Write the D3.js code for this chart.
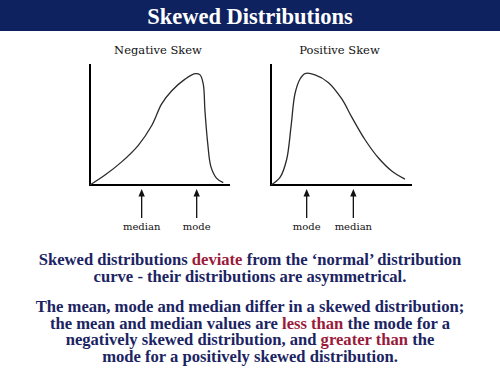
<!DOCTYPE html>
<html>
<head>
<meta charset="utf-8">
<script src="https://cdn.jsdelivr.net/npm/d3@7"></script>
<style>
    body { margin: 0; background: #fff; }
</style>
</head>
<body>
<div></div>
<script>
// curve points (x, y in 0..100 units)
const negX = [0, 10.7, 22.6, 34.5, 44.1, 51.2, 58.4, 67.9, 75, 78.6, 80.9, 82.1, 84.1, 86.4, 90.5, 95.2];
const negY = [0, 8.2, 19.1, 32.8, 49.2, 67.0, 77.9, 87.5, 92.0, 91.0, 83.4, 61.5, 34.2, 15.0, 5.5, 1.9];
const posX = [0, 6.4, 11.1, 14.2, 17.0, 20.6, 24.1, 31.2, 40.6, 50.1, 57.2, 66.7, 76.1, 85.6, 95.0];
const posY = [0, 6.3, 21.1, 48.2, 75.4, 87.6, 92.1, 91.1, 84.8, 71.3, 56.3, 37.4, 22.5, 11.6, 4.9];

const panelTitles = ["Negative Skew", "Positive Skew"];
const negMarkers = ["median", "mode"];
const negMarkerX = [36.9, 76.2];
const posMarkers = ["mode", "median"];
const posMarkerX = [25.3, 58.4];

const heading = "Skewed Distributions";
const para1 = [
    [["Skewed distributions ", 0], ["deviate", 1], [" from the \u2018normal\u2019 distribution", 0]],
    [["curve - their distributions are asymmetrical.", 0]]
];
const para2 = [
    [["The mean, mode and median differ in a skewed distribution;", 0]],
    [["the mean and median values are ", 0], ["less than", 1], [" the mode for a", 0]],
    [["negatively skewed distribution, and ", 0], ["greater than", 1], [" the", 0]],
    [["mode for a positively skewed distribution.", 0]]
];

const navy = "#0f2260";
const textNavy = "#1b2462";
const red = "#9a1a3c";

const svg = d3.select("div")
    .append("svg")
    .attr("width", 500)
    .attr("height", 375);

// header band
svg.append("rect")
    .attr("x", 0)
    .attr("y", 0)
    .attr("width", 500)
    .attr("height", 31)
    .attr("fill", navy);

svg.append("text")
    .attr("x", 250)
    .attr("y", 24)
    .attr("text-anchor", "middle")
    .attr("font-family", "Liberation Serif, serif")
    .attr("font-weight", "bold")
    .attr("font-size", 22.5)
    .attr("fill", "#fff")
    .text(heading);

const panels = [
    {x0: 90, x1: 230, y0: 185, y1: 64, xs: negX, ys: negY, names: negMarkers, mx: negMarkerX, title: panelTitles[0]},
    {x0: 271, x1: 412, y0: 185, y1: 64, xs: posX, ys: posY, names: posMarkers, mx: posMarkerX, title: panelTitles[1]}
];

panels.forEach(p => {
    const x = d3.scaleLinear().domain([0, 100]).range([p.x0, p.x1]);
    const y = d3.scaleLinear().domain([0, 100]).range([p.y0, p.y1]);
    const g = svg.append("g");

    g.append("text")
        .attr("x", (p.x0 + p.x1) / 2 - 2)
        .attr("y", 54)
        .attr("text-anchor", "middle")
        .attr("font-family", "DejaVu Serif, serif")
        .attr("font-size", 11.5)
        .attr("fill", "#111")
        .text(p.title);

    // axes
    g.append("line")
        .attr("x1", x(0)).attr("y1", y(0))
        .attr("x2", x(0)).attr("y2", y(100))
        .attr("stroke", "#000").attr("stroke-width", 2);
    g.append("line")
        .attr("x1", x(0) - 1).attr("y1", y(0))
        .attr("x2", x(100)).attr("y2", y(0))
        .attr("stroke", "#000").attr("stroke-width", 2);

    const pts = p.xs.map((v, i) => [v, p.ys[i]]);
    const line = d3.line()
        .x(d => x(d[0]))
        .y(d => y(d[1]))
        .curve(d3.curveCatmullRom.alpha(0.5));
    g.append("path")
        .attr("d", line(pts))
        .attr("fill", "none")
        .attr("stroke", "#2a2a2a")
        .attr("stroke-width", 1.3);

    // arrows + labels
    p.mx.forEach((v, i) => {
        const ax = x(v);
        g.append("line")
            .attr("x1", ax).attr("y1", 194)
            .attr("x2", ax).attr("y2", 218)
            .attr("stroke", "#111").attr("stroke-width", 1.3);
        g.append("path")
            .attr("d", `M${ax},189 L${ax - 3.2},196.5 L${ax + 3.2},196.5 Z`)
            .attr("fill", "#111");
        g.append("text")
            .attr("x", ax)
            .attr("y", 230)
            .attr("text-anchor", "middle")
            .attr("font-family", "DejaVu Serif, serif")
            .attr("font-size", 10)
            .attr("fill", "#111")
            .text(p.names[i]);
    });
});

function writeLines(lines, startY, step) {
    lines.forEach((parts, i) => {
        const t = svg.append("text")
            .attr("x", 250)
            .attr("y", startY + i * step)
            .attr("text-anchor", "middle")
            .attr("font-family", "Liberation Serif, serif")
            .attr("font-weight", "bold")
            .attr("font-size", 16.6)
            .attr("xml:space", "preserve");
        parts.forEach(part => {
            t.append("tspan")
                .attr("fill", part[1] ? red : textNavy)
                .text(part[0]);
        });
    });
}

writeLines(para1, 265, 16.7);
writeLines(para2, 312, 16.7);
</script>
</body>
</html>
